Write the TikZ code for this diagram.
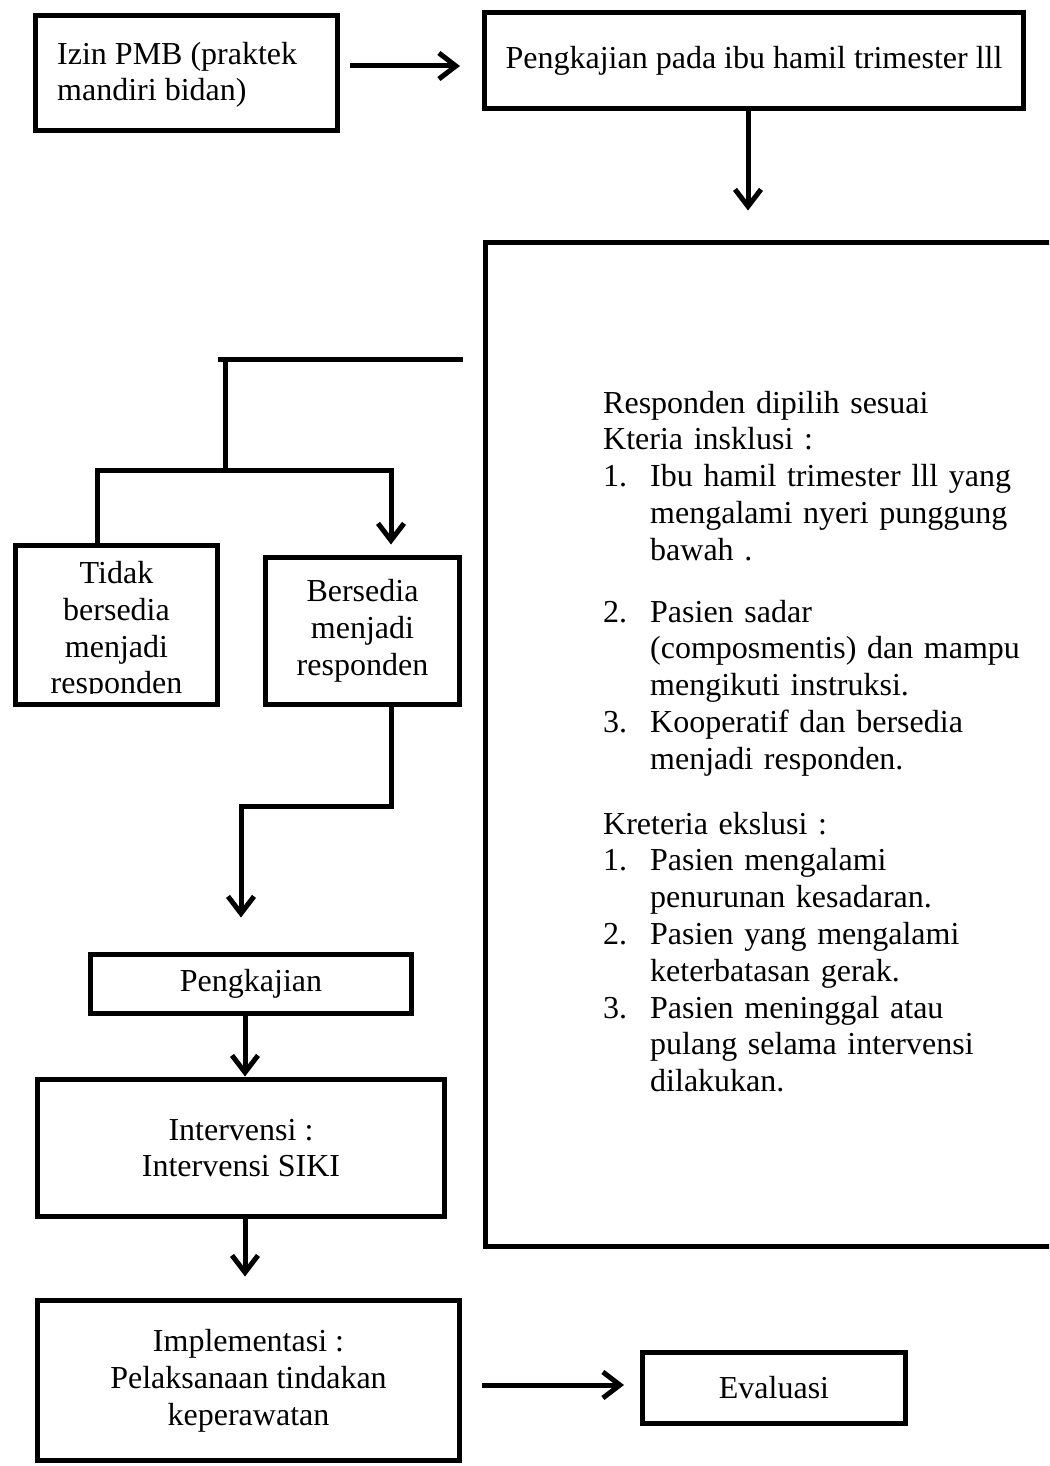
\documentclass[tikz,border=0pt]{standalone}
\usepackage{fontspec}
\setmainfont{Liberation Serif}
\usetikzlibrary{arrows.meta}
\newcommand{\dfont}{\fontsize{32}{36.8}\selectfont}
\newcommand{\cnum}[1]{\makebox[47pt][l]{#1}}
\newcommand{\cind}{\hspace*{47pt}}
\begin{document}
\begin{tikzpicture}[x=1pt,y=-1pt,
  box/.style={draw, line width=5pt, inner sep=0pt, outer sep=0pt, align=center, font=\dfont},
  conn/.style={line width=5pt},
  arr/.style={conn, -{Straight Barb[length=17pt,width=26pt]}}]
\useasboundingbox (0,0) rectangle (1049,1466);
\clip (0,0) rectangle (1049,1466);
\fill[white] (0,0) rectangle (1049,1466);

% boxes
\node[box, minimum width=302pt, minimum height=115pt] (A) at (186,73.5) {};
\node[anchor=base west, inner sep=0pt, align=left, font=\dfont] (Atext) at (57,101) {Izin PMB (praktek\\mandiri bidan)};
\node[box, minimum width=539pt, minimum height=96pt] (B) at (754,60.5) {\raisebox{-2pt}{Pengkajian pada ibu hamil trimester lll}};
\node[box, minimum width=584.5pt, minimum height=1003.5pt] (C) at (777.75,744.25) {};
\node[box, minimum width=202pt, minimum height=159pt] (D) at (116.5,625) {};
\begin{scope}
  \clip (15.5,545.5) rectangle (217.5,693);
  \node[align=center, font=\dfont, inner sep=0pt] (Dtext) at (116.5,631) {Tidak\\bersedia\\menjadi\\responden};
\end{scope}
\node[box, minimum width=194pt, minimum height=147pt] (E) at (362.5,631) {Bersedia\\menjadi\\responden};
\node[box, minimum width=321pt, minimum height=59pt] (F) at (251,984) {Pengkajian};
\node[box, minimum width=407pt, minimum height=137pt] (G) at (241,1148) {Intervensi :\\Intervensi SIKI};
\node[box, minimum width=422pt, minimum height=160pt] (H) at (248.5,1380.5) {Implementasi :\\Pelaksanaan tindakan\\keperawatan};
\node[box, minimum width=263pt, minimum height=71pt] (I) at (774,1388) {Evaluasi};

% criteria text
\node[anchor=base west, inner sep=0pt, text width=440pt, font=\dfont] (crit) at (603,413) {%
Responden dipilih sesuai\\
Kteria insklusi :\\
\cnum{1.}Ibu hamil trimester lll yang\\
\cind mengalami nyeri punggung\\
\cind bawah .\\[25pt]
\cnum{2.}Pasien sadar\\
\cind (composmentis) dan mampu\\
\cind mengikuti instruksi.\\
\cnum{3.}Kooperatif dan bersedia\\
\cind menjadi responden.\\[28pt]
Kreteria ekslusi :\\
\cnum{1.}Pasien mengalami\\
\cind penurunan kesadaran.\\
\cnum{2.}\makebox[364pt][s]{Pasien yang mengalami}\\
\cind keterbatasan gerak.\\
\cnum{3.}\makebox[364pt][s]{Pasien meninggal atau}\\
\cind\makebox[364pt][s]{pulang selama intervensi}\\
\cind dilakukan.};

% coordinates
\coordinate (split) at (225,359);
\coordinate (fork) at (225,470);
\coordinate (forkL) at (97,470);
\coordinate (forkR) at (391,470);
\coordinate (b1) at (391,806);
\coordinate (b2) at (241,806);

% connectors
\draw[arr, shorten <=13pt, shorten >=24.5pt] ([yshift=7.5pt]A.east) -- ([yshift=7.5pt]A.east -| B.west);
\draw[arr, shorten >=32pt] ([xshift=-6pt]B.south) -- ([xshift=-6pt]B.south |- C.north);
\draw[conn] ([xshift=-22.5pt]C.west |- split) -- ([xshift=-7pt]split);
\draw[conn] (split) -- (fork);
\draw[arr, shorten >=13pt] (forkL |- D.north) -- (forkL) -- (forkR) -- (forkR |- E.north);
\draw[arr, shorten >=37pt] (b1 |- E.south) -- (b1) -- (b2) -- (b2 |- F.north);
\draw[arr, shorten >=3pt] ([xshift=-6pt]F.south) -- ([xshift=-6pt]F.south |- G.north);
\draw[arr, shorten >=24pt] ([xshift=4pt]G.south) -- ([xshift=4pt]G.south |- H.north);
\draw[arr, shorten <=22.5pt, shorten >=18.5pt] ([yshift=-4.5pt]H.east) -- ([yshift=-4.5pt]H.east -| I.west);
\end{tikzpicture}
\end{document}
